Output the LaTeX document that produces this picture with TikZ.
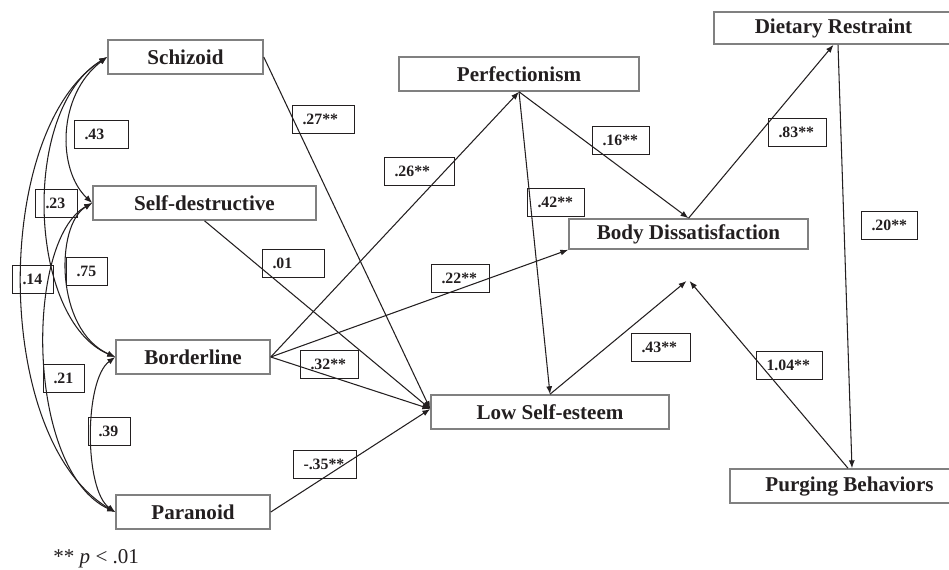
\documentclass[tikz,border=0pt]{standalone}
\usepackage{fontspec}
\setmainfont{Liberation Serif}
\usetikzlibrary{arrows.meta,calc}
\definecolor{ink}{RGB}{35,31,32}
\definecolor{boxgray}{RGB}{128,128,128}
\begin{document}
\begin{tikzpicture}[x=0.02cm,y=-0.02cm,
  box/.style={draw=boxgray, line width=0.9pt, text=ink, font=\bfseries\fontsize{12}{14}\selectfont, minimum height=0.68cm, inner sep=0pt},
  lbl/.style={draw=ink, line width=0.6pt, text=ink, font=\bfseries\fontsize{9}{10}\selectfont, inner xsep=0.2cm, inner ysep=0pt, minimum height=0.55cm, anchor=north west, align=left},
  arr/.style={-{Latex[length=4.5pt,width=3.4pt]}, line width=0.6pt, draw=ink},
  cor/.style={{Latex[length=4.5pt,width=3.4pt]}-{Latex[length=4.5pt,width=3.4pt]}, line width=0.6pt, draw=ink},
]
\useasboundingbox (0,0) rectangle (949,569);

% main boxes
\node[box, minimum width=3.10cm] (sch) at (185.5,57) {Schizoid};
\node[box, minimum width=4.46cm] (sd) at (204.5,203) {Self-destructive};
\node[box, minimum width=3.08cm] (bl) at (193,357) {Borderline};
\node[box, minimum width=3.08cm] (par) at (193,512) {Paranoid};
\node[box, minimum width=4.80cm] (perf) at (519,74) {Perfectionism};
\node[box, minimum width=4.78cm, minimum height=0.60cm] (bd) at (688.5,234) {Body Dissatisfaction};
\node[box, minimum width=4.76cm] (lse) at (550,412) {Low Self-esteem};
\node[box, minimum width=4.78cm, minimum height=0.64cm] (dr) at (833.5,28) {Dietary Restraint};
\node[box, minimum width=4.78cm] (pb) at (849.5,486) {Purging Behaviors};

\coordinate (conv) at (688,281);

% directed paths
\draw[arr] (sch.east) -- ([yshift=0.06cm]lse.west);
\draw[arr] (sd.south) -- ([yshift=0.06cm]lse.west);
\draw[arr] (bl.east) -- (perf.south);
\draw[arr] (bl.east) -- (bd.south west);
\draw[arr] (bl.east) -- ([yshift=0.06cm]lse.west);
\draw[arr] (par.east) -- ([yshift=0.06cm]lse.west);
\draw[arr] (perf.south) -- (bd.north);
\draw[arr] (perf.south) -- (lse.north);
\draw[arr] (bd.north) -- (dr.south);
\draw[arr] ([xshift=0.09cm]dr.south) -- ([xshift=0.05cm]pb.north);
\draw[arr] (lse.north) -- ([xshift=-0.03cm]conv);
\draw[arr] ([xshift=-0.03cm]pb.north) -- ([xshift=0.03cm]conv);

% correlations
\draw[cor] (sch.west) .. controls (57,95) and (57,170) .. (sd.west);
\draw[cor] (sch.west) .. controls (20,110) and (28,320) .. (bl.west);
\draw[cor] (sch.west) .. controls (-8,130) and (-8,440) .. (par.west);
\draw[cor] (sd.west) .. controls (55,225) and (55,330) .. (bl.west);
\draw[cor] (sd.west) .. controls (25,240) and (25,470) .. (par.west);
\draw[cor] (bl.west) .. controls (84,380) and (84,490) .. (par.west);

% coefficient labels
\node[lbl, text width=0.84cm] (l27) at (292,105) {.27**};
\node[lbl, text width=0.68cm] (l43) at (74,120) {.43};
\node[lbl, text width=0.44cm] (l23) at (35,189) {.23};
\node[lbl, text width=0.42cm] (l14) at (12,265) {.14};
\node[lbl, text width=0.42cm] (l75) at (66,257) {.75};
\node[lbl, text width=0.84cm] (l01) at (262,249) {.01};
\node[lbl, text width=0.42cm] (l21) at (43,364) {.21};
\node[lbl, text width=0.44cm] (l39) at (88,417) {.39};
\node[lbl, text width=0.86cm] (l35) at (293,450) {-.35**};
\node[lbl, text width=1.00cm] (l26) at (384,157) {.26**};
\node[lbl, text width=0.74cm] (l16) at (592,126) {.16**};
\node[lbl, text width=0.74cm] (l42) at (527,188) {.42**};
\node[lbl, text width=0.76cm] (l22) at (431,264) {.22**};
\node[lbl, text width=0.76cm] (l32) at (300,350) {.32**};
\node[lbl, text width=0.78cm] (l43b) at (631,333) {.43**};
\node[lbl, text width=0.76cm] (l83) at (768,118) {.83**};
\node[lbl, text width=0.72cm] (l20) at (861,211) {.20**};
\node[lbl, text width=0.92cm] (l104) at (756,351) {1.04**};

% footnote
\node[anchor=base west, text=ink, font=\fontsize{12}{14}\selectfont, inner sep=0pt] (note) at (53,563) {** \textit{p} < .01};
\end{tikzpicture}
\end{document}
